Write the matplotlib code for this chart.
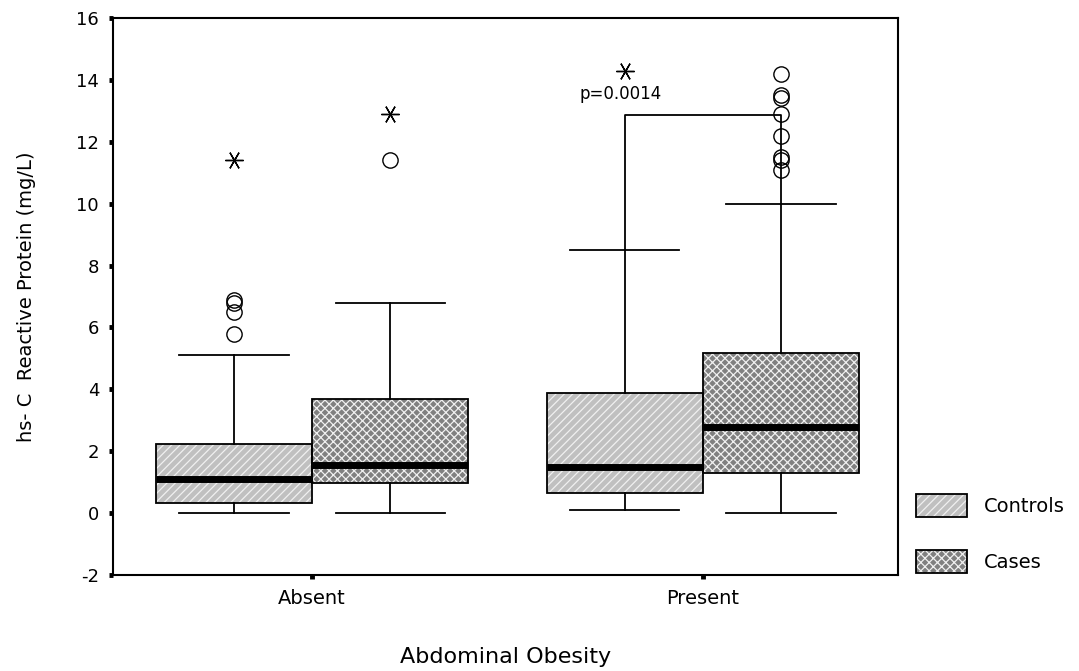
import matplotlib

matplotlib.use('Agg')

import numpy as np
import matplotlib.pyplot as plt
from matplotlib.patches import PathPatch, Patch

plt.rcParams['font.family'] = ['DejaVu Sans']
plt.rcParams['hatch.linewidth'] = 0.9
plt.rcParams['axes.unicode_minus'] = False

groups = ['Absent', 'Present']
series = ['Controls', 'Cases']

# box stats (mg/L)
controls_lo = [0.0, 0.1]
controls_q1 = [0.32, 0.65]
controls_med = [1.1, 1.48]
controls_q3 = [2.23, 3.87]
controls_hi = [5.1, 8.5]
controls_out = [[5.8, 6.5, 6.8, 6.9], []]
controls_ext = [[11.4], [14.3]]

cases_lo = [0.0, 0.0]
cases_q1 = [0.97, 1.29]
cases_med = [1.55, 2.77]
cases_q3 = [3.68, 5.16]
cases_hi = [6.8, 10.0]
cases_out = [[11.4], [11.1, 11.4, 11.5, 12.2, 12.9, 13.4, 13.5, 14.2]]
cases_ext = [[12.9], []]

bracket_y = 12.85
p_text = 'p=0.0014'

fig = plt.figure(figsize=(10.79, 6.71), dpi=100)
ax = fig.add_axes([0.1047, 0.1431, 0.7276, 0.8301])

x = np.arange(len(groups))
off = 0.2
w = 0.4

styles = [
    dict(fc='#c0c0c0', hatch='////', pos=x - off),
    dict(fc='#808080', hatch='xxxx', pos=x + off),
]
allstats = [
    (controls_lo, controls_q1, controls_med, controls_q3, controls_hi, controls_out, controls_ext),
    (cases_lo, cases_q1, cases_med, cases_q3, cases_hi, cases_out, cases_ext),
]

handles = []
for st, (lo, q1, med, q3, hi, out, ext) in zip(styles, allstats):
    stats = []
    for i in range(len(groups)):
        stats.append(dict(whislo=lo[i], q1=q1[i], med=med[i], q3=q3[i],
                          whishi=hi[i], fliers=np.array(out[i])))
    bp = ax.bxp(stats, positions=st['pos'], widths=w, capwidths=0.28,
                patch_artist=True,
                boxprops=dict(facecolor=st['fc'], edgecolor='#f0f0f0',
                              hatch=st['hatch'], linewidth=0),
                medianprops=dict(color='black', linewidth=5, zorder=4),
                whiskerprops=dict(color='black', linewidth=1.3),
                capprops=dict(color='black', linewidth=1.3),
                flierprops=dict(marker='o', markerfacecolor='none',
                                markeredgecolor='black', markersize=11,
                                markeredgewidth=1.0, linestyle='none'))
    for b in bp['boxes']:
        ax.add_patch(PathPatch(b.get_path(), facecolor='none',
                               edgecolor='black', linewidth=1.3, zorder=3))
    for i in range(len(groups)):
        if ext[i]:
            ax.plot([st['pos'][i]] * len(ext[i]), ext[i], linestyle='none',
                    marker=(6, 2, 90), markersize=13, color='black',
                    markeredgewidth=1.0)
    h1 = Patch(facecolor=st['fc'], edgecolor='#f0f0f0', hatch=st['hatch'], linewidth=0)
    h2 = Patch(facecolor='none', edgecolor='black', linewidth=1.3)
    handles.append((h1, h2))

# significance bracket for the Present group
xc = x[1] - off
xk = x[1] + off
ax.plot([xc, xc, xk, xk], [controls_hi[1], bracket_y, bracket_y, cases_hi[1]],
        color='black', linewidth=1.3)
ax.text(xc - 0.01, 13.55, p_text, ha='center', va='center', fontsize=12)

ax.set_xlim(-0.51, 1.5)
ax.set_ylim(-2, 16)
ax.set_yticks(np.arange(-2, 17, 2))
ax.set_xticks(x)
ax.set_xticklabels(groups, fontsize=14)
ax.tick_params(axis='y', labelsize=13, direction='out', length=3, width=3.5, pad=7)
ax.tick_params(axis='x', direction='out', length=3, width=3.5, pad=7)
for s in ax.spines.values():
    s.set_linewidth(1.5)

ax.set_xlabel('Abdominal Obesity', fontsize=16)
ax.set_ylabel('hs- C  Reactive Protein (mg/L)', fontsize=14)
ax.xaxis.set_label_coords(0.5, -0.13)
ax.yaxis.set_label_coords(-0.098, 0.5)

fig.legend(handles, series, loc='upper left', bbox_to_anchor=(916 / 1079, 1 - 494 / 671),
           frameon=False, fontsize=14, handlelength=2.6, handleheight=1.45,
           labelspacing=1.7, handletextpad=0.9, borderpad=0, borderaxespad=0)

plt.savefig('out.png', format='png', dpi=100)
